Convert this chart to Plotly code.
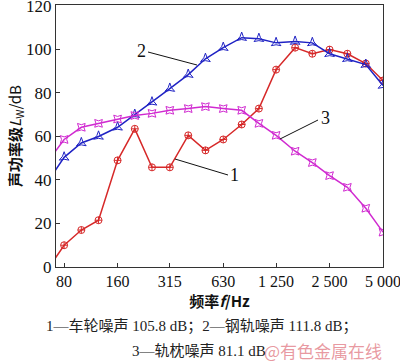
import plotly.graph_objects as go
import math

freqs = [63, 80, 100, 125, 160, 200, 250, 315, 400, 500, 630, 800, 1000, 1250, 1600, 2000, 2500, 3150, 4000, 5000]
wheel = [-2.4, 10, 17, 21.5, 49, 63.5, 45.8, 45.8, 60.5, 53.6, 58.6, 65.5, 72.8, 90.7, 100.8, 98, 99.9, 98, 93.5, 85.7]
rail = [37.9, 50.4, 57, 60, 64.2, 70, 75.7, 82, 88.4, 95.7, 100.8, 105.4, 104.9, 103, 103.6, 103, 98, 95.7, 93, 83.4]
sleeper = [47.1, 58.6, 64.2, 66, 68, 69.6, 70.6, 72, 72.8, 73.7, 72.8, 72, 66, 60.5, 53.2, 48, 42, 36.6, 27, 16]
tick_vals = [80, 160, 315, 630, 1250, 2500, 5000]
tick_text = ["80", "160", "315", "630", "1 250", "2 500", "5 000"]

serif = "Liberation Serif, Times New Roman, serif"
cjk = "Noto Sans CJK SC"

fig = go.Figure()
series = [
    (wheel, "#d62828", "circle-cross-open"),
    (rail, "#1f22c4", "star-triangle-up-open"),
    (sleeper, "#d02ad0", "star-square-open"),
]
for ys, col, sym in series:
    fig.add_trace(go.Scatter(
        x=freqs, y=ys, mode="lines+markers",
        line=dict(color=col, width=1.5),
        marker=dict(symbol=sym, size=7, color=col, line=dict(width=1, color=col)),
        showlegend=False,
    ))

xmin = math.log10(72)
xmax = math.log10(5000)

fig.update_xaxes(
    type="log", range=[xmin, xmax], tickvals=tick_vals, ticktext=tick_text,
    showgrid=False, zeroline=False, showline=True, linecolor="#333", linewidth=1,
    mirror=True, ticks="inside", ticklen=4, tickcolor="#333", automargin=False,
    ticklabeloverflow="allow",
    tickfont=dict(family=serif, size=16, color="#111"),
    title=dict(text="<b>频率</b><b><i>f</i></b><b>/Hz</b>", font=dict(family=cjk, size=15, color="#111"), standoff=2),
)
fig.update_yaxes(
    range=[0, 120.4], tickvals=[0, 20, 40, 60, 80, 100, 120],
    showgrid=False, zeroline=False, showline=True, linecolor="#333", linewidth=1,
    mirror=True, ticks="inside", ticklen=4, tickcolor="#333", automargin=False,
    ticklabeloverflow="allow",
    tickfont=dict(family=serif, size=17, color="#111"),
    title=dict(text="<b>声功率级</b><i>L</i><sub>W</sub>/dB", font=dict(family=cjk, size=15, color="#111"), standoff=0),
)

def ln(x0, y0, x1, y1):
    fig.add_shape(type="line", xref="paper", yref="paper", x0=x0, y0=y0, x1=x1, y1=y1,
                  line=dict(color="#111", width=1))

W0, W1 = 56, 383
H0, H1 = 5, 267
def px(x): return (x - W0) / (W1 - W0)
def py(y): return (H1 - y) / (H1 - H0)

ln(px(148), py(52), px(197), py(65))
ln(px(318), py(120), px(280), py(139))
ln(px(228), py(175), px(175), py(159))
for t, x, y in [("2", 141, 51), ("3", 325, 118), ("1", 234, 175)]:
    fig.add_annotation(text=t, x=px(x), y=py(y), xref="paper", yref="paper", showarrow=False,
                       xanchor="center", yanchor="middle",
                       font=dict(family=serif, size=18, color="#111"))

fig.add_annotation(text="1—车轮噪声 105.8 dB；2—钢轨噪声 111.8 dB；", x=px(201), y=py(326),
                   xref="paper", yref="paper", showarrow=False, yanchor="middle",
                   font=dict(family="Liberation Serif, Noto Sans CJK SC", size=15, color="#222"))
fig.add_annotation(text="3—轨枕噪声 81.1 dB", x=px(268), y=py(351), xref="paper", yref="paper",
                   showarrow=False, xanchor="right", yanchor="middle",
                   font=dict(family="Liberation Serif, Noto Sans CJK SC", size=15, color="#222"))
fig.add_annotation(text="@有色金属在线", x=px(262), y=py(350), xref="paper", yref="paper",
                   showarrow=False, xanchor="left", yanchor="middle",
                   font=dict(family=cjk, size=17, color="rgba(225,120,130,0.75)"))

fig.update_layout(
    width=400, height=364, margin=dict(l=W0, r=400 - W1, t=H0, b=364 - H1, autoexpand=False),
    paper_bgcolor="white", plot_bgcolor="white",
)
fig.write_html("out.html", config={"displayModeBar": False},
               post_script="document.body.style.margin='0';")
